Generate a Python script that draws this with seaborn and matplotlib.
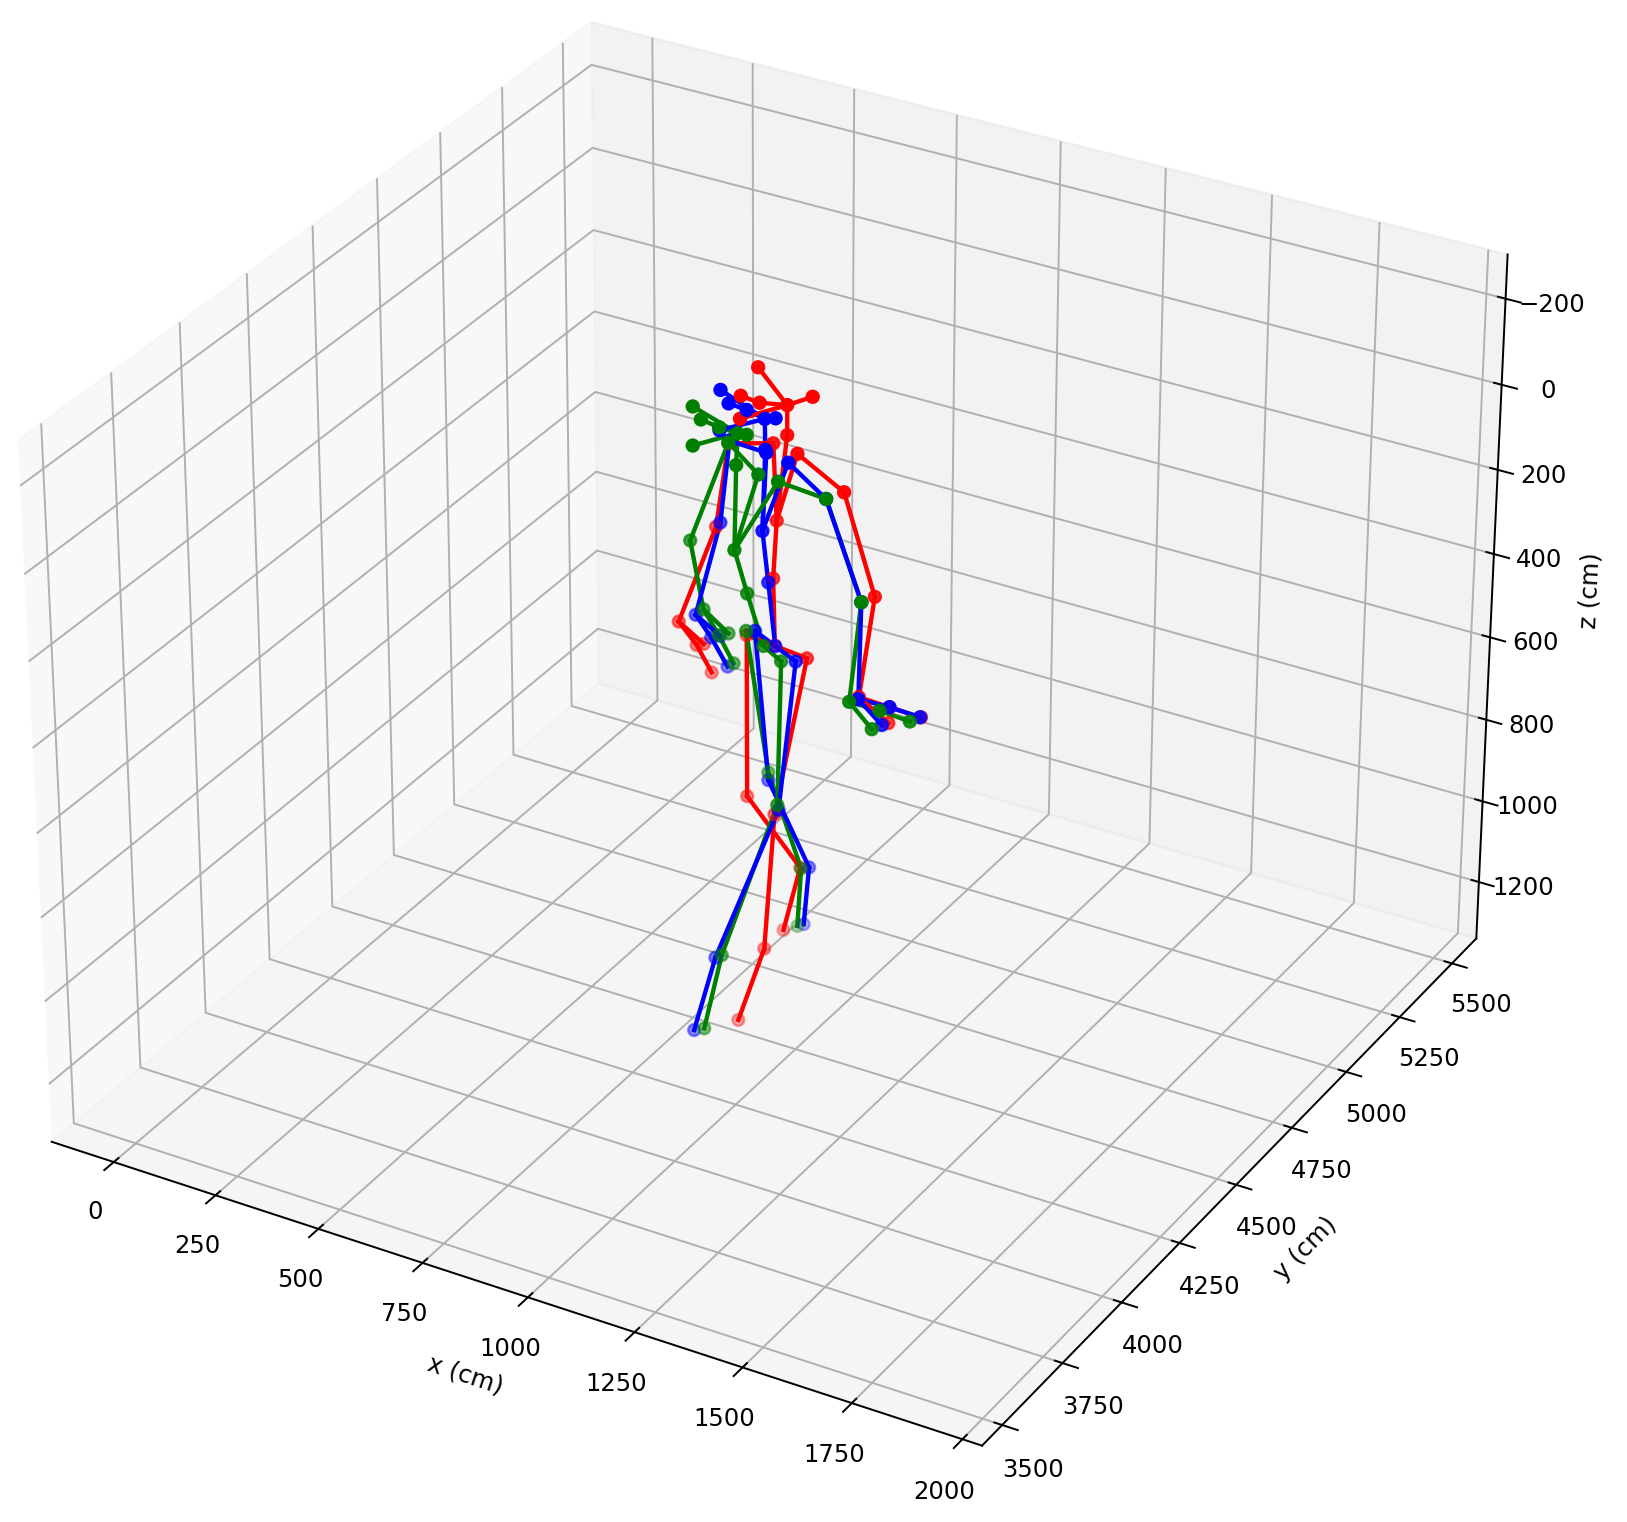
import numpy as np
import seaborn as sns
import matplotlib
matplotlib.use("Agg")
import matplotlib.pyplot as plt

# Joint readings per skeleton, relative to the origin below
red_x = [217,138,256,134,169,144,209,178,247,199,210,212,147,307,79,64,35,54,82,66,345,426,437,494,542,478,216,320,311,295,310,289]
red_y = [506,529,538,468,481,448,520,519,494,496,463,466,467,428,514,490,392,429,440,437,507,488,407,428,470,453,349,380,329,321,254,187]
red_z = [109,57,95,93,105,132,184,210,203,366,477,630,625,613,234,414,589,655,715,653,268,470,653,670,700,723,914,1064,1185,918,1189,1326]

blue_x = [186,97,204,117,151,115,202,205,247,203,215,247,205,301,137,81,61,87,118,102,329,439,470,516,562,490,256,358,343,311,253,241]
blue_y = [472,453,483,450,462,418,446,445,458,433,435,407,400,394,419,478,414,430,441,440,464,411,346,389,430,405,364,349,354,309,159,95]
blue_z = [132,83,131,106,117,151,184,189,206,358,471,592,566,605,169,394,577,629,692,626,267,441,618,644,674,700,873,1036,1175,897,1177,1315]

green_x = [147,58,163,78,113,77,160,191,239,176,196,238,190,276,136,50,95,122,150,138,329,439,445,501,547,486,252,345,333,329,274,269]
green_y = [433,412,441,409,420,379,405,438,432,370,385,376,391,380,416,413,387,400,410,411,464,411,354,376,416,372,371,340,346,273,148,87]
green_z = [156,111,159,133,146,177,210,238,238,378,477,579,566,605,172,412,542,599,660,596,267,441,635,650,681,694,860,1038,1178,862,1159,1298]

origin = (700, 4100, -200)

# Range the readings were calibrated against, and the axis range of the chart
read_lims = [(-110, 2000), (3462, 5574), (1308, -269)]
axis_lims = [(-154, 2044), (3418, 5618), (1341, -302)]

bones = [
    (0, 1), (0, 2), (0, 4), (4, 3), (0, 5), (0, 6),
    (6, 9), (7, 9), (8, 9), (9, 10), (10, 11), (11, 12), (11, 13),
    (7, 14), (14, 15), (15, 16), (16, 17), (17, 18), (16, 19),
    (8, 20), (20, 21), (21, 22), (22, 23), (23, 24), (22, 25),
    (12, 26), (26, 27), (27, 28), (13, 29), (29, 30), (30, 31),
]

x_ticks = [0, 250, 500, 750, 1000, 1250, 1500, 1750, 2000]
y_ticks = [3500, 3750, 4000, 4250, 4500, 4750, 5000, 5250, 5500]
z_ticks = [-200, 0, 200, 400, 600, 800, 1000, 1200]

skeletons = {
    "red": (red_x, red_y, red_z),
    "green": (green_x, green_y, green_z),
    "blue": (blue_x, blue_y, blue_z),
}
palette = dict(zip(skeletons, sns.color_palette(["red", "green", "blue"])))


def to_axis(values, shift, read, axis):
    scale = (axis[1] - axis[0]) / (read[1] - read[0])
    return axis[0] + (np.asarray(values) + shift - read[0]) * scale


coords = {
    name: [to_axis(v, o, r, a) for v, o, r, a in zip(vals, origin, read_lims, axis_lims)]
    for name, vals in skeletons.items()
}

W, H, DPI = 1627, 1522, 175
fig = plt.figure(figsize=(W / DPI, H / DPI), dpi=DPI)
ax = fig.add_axes([-0.0451, -0.0185, 1.0180, 1.0882], projection="3d")
ax.computed_zorder = False

for a, b in bones:
    for name, (xs, ys, zs) in coords.items():
        ax.plot([xs[a], xs[b]], [ys[a], ys[b]], [zs[a], zs[b]], color=palette[name], lw=1.8)

for name, order in [("red", 3), ("blue", 4), ("green", 5)]:
    xs, ys, zs = coords[name]
    ax.scatter(xs, ys, zs, color=palette[name], s=24, zorder=order)

ax.set_xlim(*axis_lims[0])
ax.set_ylim(*axis_lims[1])
ax.set_zlim(*axis_lims[2])
ax.set_xticks(x_ticks)
ax.set_yticks(y_ticks)
ax.set_zticks(z_ticks)
ax.set_xlabel("x (cm)")
ax.set_ylabel("y (cm)")
ax.set_zlabel("z (cm)")

fig.savefig("out.png", dpi=DPI)
